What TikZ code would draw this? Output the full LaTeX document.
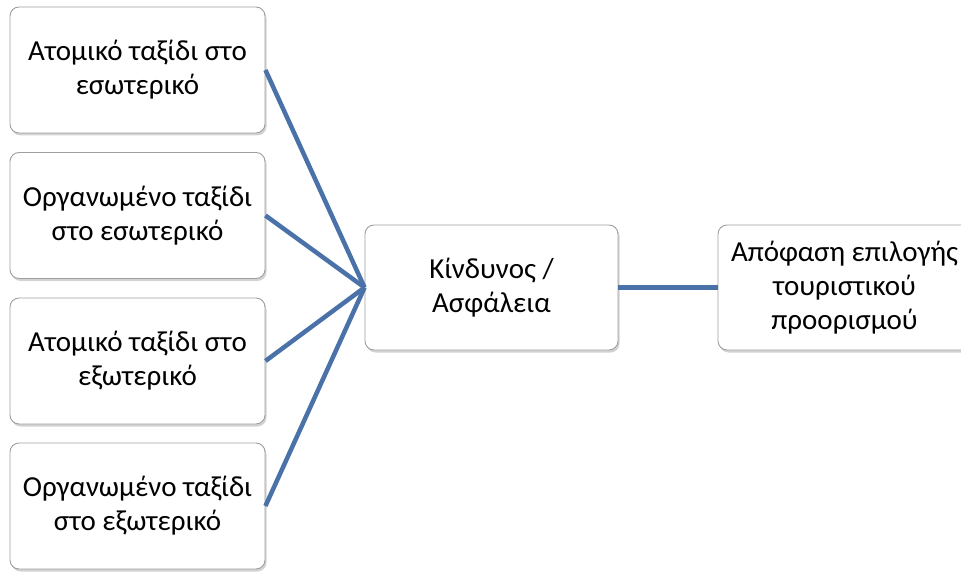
\documentclass[tikz,border=0pt]{standalone}
\usepackage{fontspec}
\setmainfont{Carlito}
\usepackage{tikz}
\usetikzlibrary{shadows}
\definecolor{linkblue}{RGB}{74,114,168}
\tikzset{box/.style={draw=gray!75, line width=0.9pt, rounded corners=9pt, fill=white,
    drop shadow={shadow xshift=1.5pt, shadow yshift=-2.5pt, opacity=0.35},
    minimum width=255pt, minimum height=126pt, align=center,
    font=\fontsize{29}{34}\selectfont},
  link/.style={draw=linkblue, line width=4.5pt}}

\begin{document}
\begin{tikzpicture}[x=1pt, y=-1pt]
    \useasboundingbox (0,0) rectangle (961,572);
    \node [box] (a1) at (137.5,70) {Ατομικό ταξίδι στο\\εσωτερικό};
    \node [box] (a2) at (137.5,215.5) {Οργανωμένο ταξίδι\\στο εσωτερικό};
    \node [box] (a3) at (137.5,361) {Ατομικό ταξίδι στο\\εξωτερικό};
    \node [box] (a4) at (137.5,506) {Οργανωμένο ταξίδι\\στο εξωτερικό};
    \node [box, minimum width=253pt, minimum height=125pt] (risk) at (491.5,287.5) {Κίνδυνος /\\Ασφάλεια};
    \node [box, minimum width=253pt, minimum height=125pt] (dec) at (844.5,287.5) {Απόφαση επιλογής\\τουριστικού\\προορισμού};
    \foreach \i in {1,...,4}
      \draw [link] (a\i.east) -- (risk.west);
    \draw [link] (risk.east) -- (dec.west);
\end{tikzpicture}
\end{document}
